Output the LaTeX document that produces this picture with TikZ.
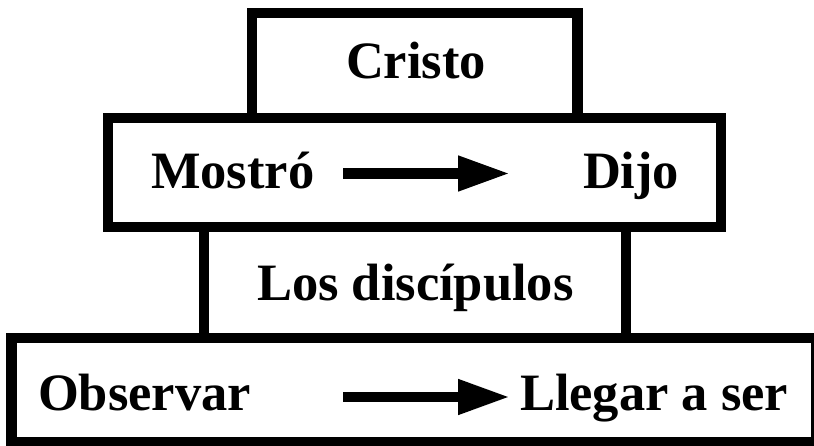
\documentclass[tikz,border=0pt]{standalone}
\usepackage{fontspec}
\setmainfont{Liberation Serif}
\usetikzlibrary{arrows.meta}
\begin{document}
\begin{tikzpicture}[x=1pt,y=-1pt,
  box/.style={draw=black,line width=10.5pt,rectangle,inner sep=0pt,outer sep=0pt},
  lbl/.style={inner sep=0pt,outer sep=0pt,anchor=base west,font=\fontsize{52.5}{60}\selectfont\bfseries},
  bigarrow/.style={line width=10.5pt,-{Triangle[length=52pt,width=33pt]}}]
\useasboundingbox (0,0) rectangle (814,446);
\clip (0,0) rectangle (814,446);
\node[box,minimum width=325.5pt,minimum height=105pt] (b1) at (414.75,65.5) {};
\node[box,minimum width=613pt,minimum height=109pt] (b2) at (414.5,172.5) {};
\node[box,minimum width=422pt,minimum height=111pt] (b3) at (415,282.5) {};
\node[box,minimum width=804.3pt,minimum height=104.5pt] (b4) at (413.85,390.25) {};
\node[lbl] (cristo) at (346,78.5) {Cristo};
\node[lbl] (mostro) at (151,188.5) {Mostró};
\node[lbl] (dijo) at (583,188.5) {Dijo};
\node[lbl] (disc) at (257,300.5) {Los discípulos};
\node[lbl] (obs) at (38,410) {Observar};
\node[lbl] (lleg) at (520,410) {Llegar a ser};
\coordinate (a1s) at (343,173.5);
\coordinate (a1e) at (510,173.5);
\coordinate (a2s) at (343,397);
\coordinate (a2e) at (510,397);
\draw[bigarrow] (a1s) -- (a1e);
\draw[bigarrow] (a2s) -- (a2e);
\end{tikzpicture}
\end{document}
